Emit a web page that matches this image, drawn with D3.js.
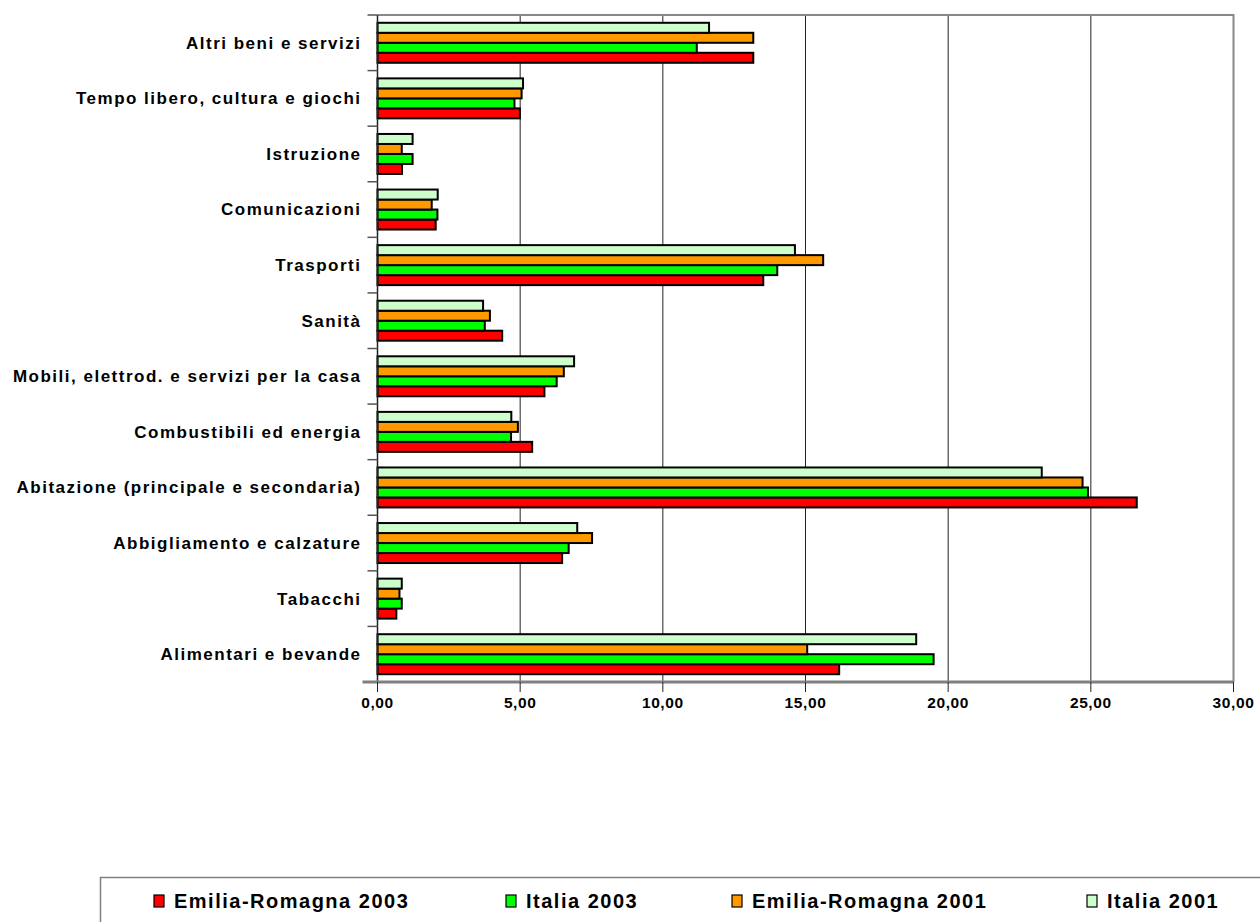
<!DOCTYPE html>
<html>
<head>
<meta charset="utf-8">
<script src="https://cdn.jsdelivr.net/npm/d3@7"></script>
<style>
  html, body { margin: 0; padding: 0; background: #fff; }
  svg { display: block; font-family: "Liberation Sans", Arial, sans-serif; font-weight: bold; }
</style>
</head>
<body>
<svg id="chart" width="1260" height="922"></svg>
<script>
// Spending categories, listed from the bottom of the chart upwards
const categories = [
  "Alimentari e bevande",
  "Tabacchi",
  "Abbigliamento e calzature",
  "Abitazione (principale e secondaria)",
  "Combustibili ed energia",
  "Mobili, elettrod. e servizi per la casa",
  "Sanità",
  "Trasporti",
  "Comunicazioni",
  "Istruzione",
  "Tempo libero, cultura e giochi",
  "Altri beni e servizi"
];

// Share of household spending (%), one value per category
const emiliaRomagna2003 = [16.18, 0.66, 6.47, 26.61, 5.42, 5.85, 4.37, 13.52, 2.04, 0.86, 4.99, 13.17];
const italia2003        = [19.49, 0.85, 6.70, 24.90, 4.68, 6.28, 3.76, 14.01, 2.10, 1.23, 4.80, 11.19];
const emiliaRomagna2001 = [15.06, 0.77, 7.52, 24.71, 4.92, 6.53, 3.94, 15.62, 1.90, 0.85, 5.05, 13.17];
const italia2001        = [18.88, 0.85, 7.00, 23.28, 4.69, 6.89, 3.70, 14.63, 2.11, 1.23, 5.10, 11.62];

const seriesNames = ["Emilia-Romagna 2003", "Italia 2003", "Emilia-Romagna 2001", "Italia 2001"];
const seriesColors = ["#ff0000", "#00ff00", "#ff9900", "#ccffcc"];
const xTicks = [0, 5, 10, 15, 20, 25, 30];

const series = [emiliaRomagna2003, italia2003, emiliaRomagna2001, italia2001].map((vals, i) => ({
  name: seriesNames[i], color: seriesColors[i], values: vals
}));

const svg = d3.select("#chart");
const plot = { left: 377.5, right: 1233.5, top: 15, bottom: 682 };

const x = d3.scaleLinear().domain([0, 30]).range([plot.left, plot.right]);

// top of the chart shows the last category
const y0 = d3.scaleBand()
  .domain(categories.slice().reverse())
  .range([plot.top, plot.bottom])
  .padding(0);

// within a category, Italia 2001 sits on top and Emilia-Romagna 2003 at the bottom
const inner = 7.8;
const y1 = d3.scaleBand()
  .domain(seriesNames.slice().reverse())
  .range([inner, y0.bandwidth() - inner])
  .padding(0);

// vertical gridlines
svg.append("g")
  .selectAll("line")
  .data(xTicks.filter(t => t > 0 && t < 30))
  .join("line")
  .attr("x1", d => x(d)).attr("x2", d => x(d))
  .attr("y1", plot.top).attr("y2", plot.bottom)
  .attr("stroke", "#222").attr("stroke-width", 1);

// plot frame (top and right)
svg.append("path")
  .attr("d", `M${plot.left},${plot.top}H${plot.right}V${plot.bottom}`)
  .attr("fill", "none").attr("stroke", "#888").attr("stroke-width", 2);

// bars
const groups = svg.append("g")
  .selectAll("g")
  .data(categories.map((c, i) => ({ cat: c, i })))
  .join("g")
  .attr("transform", d => `translate(0,${y0(d.cat)})`);

groups.selectAll("rect")
  .data(d => series.map(s => ({ name: s.name, color: s.color, value: s.values[d.i] })))
  .join("rect")
  .attr("x", x(0))
  .attr("y", d => y1(d.name))
  .attr("width", d => x(d.value) - x(0))
  .attr("height", y1.bandwidth())
  .attr("fill", d => d.color)
  .attr("stroke", "#000")
  .attr("stroke-width", 2);

// category axis (left)
const yAxis = svg.append("g").attr("transform", `translate(${plot.left},0)`);
yAxis.append("line")
  .attr("x1", 0).attr("x2", 0).attr("y1", plot.top).attr("y2", plot.bottom)
  .attr("stroke", "#222").attr("stroke-width", 1.5);
const boundaries = y0.domain().map(c => y0(c)).concat([plot.bottom]);
yAxis.selectAll("line.tick")
  .data(boundaries)
  .join("line")
  .attr("class", "tick")
  .attr("x1", -10).attr("x2", 0)
  .attr("y1", d => d).attr("y2", d => d)
  .attr("stroke", "#555").attr("stroke-width", 1.5);
yAxis.selectAll("text")
  .data(y0.domain())
  .join("text")
  .attr("x", -16)
  .attr("y", d => y0(d) + y0.bandwidth() / 2)
  .attr("dy", "0.35em")
  .attr("text-anchor", "end")
  .attr("font-size", 17)
  .attr("letter-spacing", 1.5)
  .attr("fill", "#000")
  .text(d => d);

// value axis (bottom)
const xAxis = svg.append("g").attr("transform", `translate(0,${plot.bottom})`);
xAxis.append("line")
  .attr("x1", plot.left - 15).attr("x2", plot.right)
  .attr("y1", 0).attr("y2", 0)
  .attr("stroke", "#808080").attr("stroke-width", 3);
xAxis.selectAll("line.tick")
  .data(xTicks)
  .join("line")
  .attr("class", "tick")
  .attr("x1", d => x(d)).attr("x2", d => x(d))
  .attr("y1", 0).attr("y2", 10)
  .attr("stroke", "#222").attr("stroke-width", 1);
const fmt = d => d3.format(".2f")(d).replace(".", ",");
xAxis.selectAll("text")
  .data(xTicks)
  .join("text")
  .attr("x", d => x(d))
  .attr("y", 26)
  .attr("text-anchor", "middle")
  .attr("font-size", 15.5)
  .attr("letter-spacing", 0.6)
  .attr("fill", "#000")
  .text(fmt);

// legend
const legend = svg.append("g");
legend.append("rect")
  .attr("x", 100.5).attr("y", 877.5)
  .attr("width", 1170).attr("height", 60)
  .attr("fill", "#fff").attr("stroke", "#808080").attr("stroke-width", 1.5);
const legendX = [154, 506, 732, 1087];
const legendItems = legend.selectAll("g")
  .data(series)
  .join("g")
  .attr("transform", (d, i) => `translate(${legendX[i]},895)`);
legendItems.append("rect")
  .attr("x", 0).attr("y", 0).attr("width", 10).attr("height", 12)
  .attr("fill", d => d.color).attr("stroke", "#000").attr("stroke-width", 1.2);
legendItems.append("text")
  .attr("x", 20).attr("y", 12.7)
  .attr("font-size", 20)
  .attr("letter-spacing", 1.5)
  .attr("fill", "#000")
  .text(d => d.name);
</script>
</body>
</html>
